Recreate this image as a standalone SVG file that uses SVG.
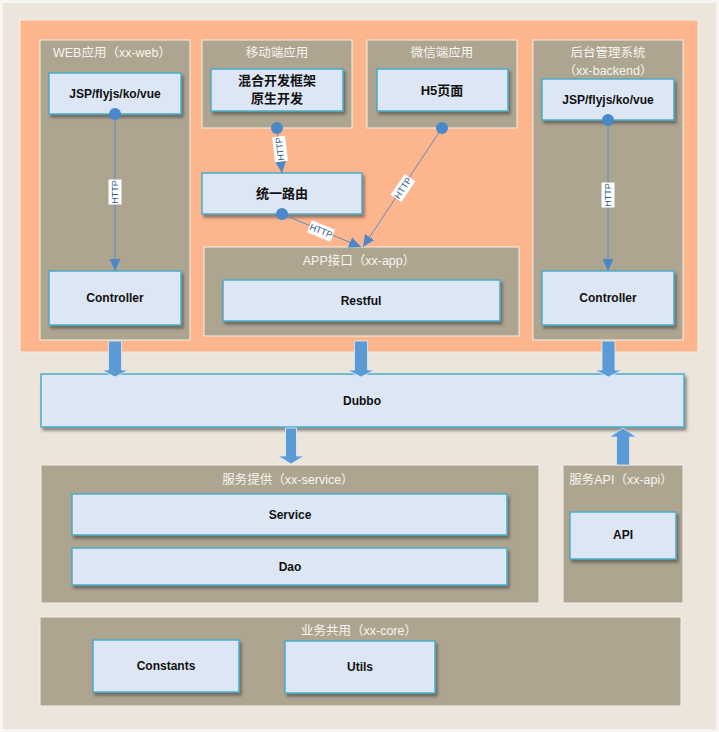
<svg xmlns="http://www.w3.org/2000/svg" width="719" height="732" viewBox="0 0 719 732">
  <defs>
    <filter id="sh" x="-10%" y="-20%" width="125%" height="150%">
      <feDropShadow dx="2" dy="3" stdDeviation="1.4" flood-color="#3a3a3a" flood-opacity="0.55"/>
    </filter>
    <marker id="ah" markerUnits="userSpaceOnUse" markerWidth="12" markerHeight="11" refX="12" refY="5.5" orient="auto">
      <path d="M0,0 L12,5.5 L0,11 z" fill="#4A88CA"/>
    </marker>
    <style>
      .grp { fill: #ADA590; stroke: #F3F0E8; stroke-width: 1; }
      .node { fill: #DDE6F4; stroke: #4BACC6; stroke-width: 1.5; filter: url(#sh); }
      .ttl { font-family: "Liberation Sans", "Noto Sans CJK SC", sans-serif; font-size: 12.5px; fill: #F7F5EF; text-anchor: middle; }
      .lbl { font-family: "Liberation Sans", "Noto Sans CJK SC", sans-serif; font-size: 12px; font-weight: bold; fill: #111111; text-anchor: middle; dominant-baseline: central; }
      .cjk { font-size: 13px; }
      .wire { stroke: #5B8CC4; stroke-width: 1; fill: none; marker-end: url(#ah); }
      .dot { fill: #4A88CA; }
      .tag rect { fill: #FFFFFF; }
      .tag text { font-family: "Liberation Sans", sans-serif; font-size: 9px; fill: #2E5C8E; text-anchor: middle; dominant-baseline: central; }
      .fat { fill: #5B9BD5; stroke: #E4ECF6; stroke-width: 0.8; }
    </style>
  </defs>

  <!-- canvas -->
  <rect x="0" y="0" width="719" height="732" fill="#F7F5F1"/>
  <rect x="3" y="3" width="713" height="726" fill="#EBE5DB"/>

  <!-- front-end layer -->
  <rect x="20" y="20" width="678" height="332" fill="#FDB58D" stroke="#F6EFE6" stroke-width="1"/>

  <g id="web">
    <rect class="grp" x="40" y="40" width="150" height="300"/>
    <text class="ttl" x="112" y="57">WEB应用（xx-web）</text>
  </g>
  <g id="mobile">
    <rect class="grp" x="202" y="40" width="150" height="88"/>
    <text class="ttl" x="277" y="57">移动端应用</text>
  </g>
  <g id="wechat">
    <rect class="grp" x="367" y="40" width="150" height="88"/>
    <text class="ttl" x="442" y="57">微信端应用</text>
  </g>
  <g id="backend">
    <rect class="grp" x="533" y="40" width="150" height="300"/>
    <text class="ttl" x="608" y="57">后台管理系统</text>
    <text class="ttl" x="608" y="75">（xx-backend）</text>
  </g>
  <g id="app">
    <rect class="grp" x="204" y="247" width="315" height="89"/>
    <text class="ttl" x="359" y="265">APP接口（xx-app）</text>
  </g>

  <g id="web-view">
    <rect class="node" x="49" y="73" width="132" height="41"/>
    <text class="lbl" x="115" y="94">JSP/flyjs/ko/vue</text>
  </g>
  <g id="hybrid">
    <rect class="node" x="211" y="69" width="132" height="42"/>
    <text class="lbl cjk" x="277" y="80">混合开发框架</text>
    <text class="lbl cjk" x="277" y="98">原生开发</text>
  </g>
  <g id="h5">
    <rect class="node" x="377" y="69" width="131" height="42"/>
    <text class="lbl cjk" x="442" y="90">H5页面</text>
  </g>
  <g id="backend-view">
    <rect class="node" x="542" y="79" width="132" height="41"/>
    <text class="lbl" x="608" y="100">JSP/flyjs/ko/vue</text>
  </g>
  <g id="router">
    <rect class="node" x="202" y="173" width="160" height="41"/>
    <text class="lbl cjk" x="282" y="193">统一路由</text>
  </g>
  <g id="web-controller">
    <rect class="node" x="49" y="271" width="132" height="54"/>
    <text class="lbl" x="115" y="298">Controller</text>
  </g>
  <g id="backend-controller">
    <rect class="node" x="542" y="271" width="132" height="54"/>
    <text class="lbl" x="608" y="298">Controller</text>
  </g>
  <g id="restful">
    <rect class="node" x="223" y="280" width="277" height="41"/>
    <text class="lbl" x="361" y="301">Restful</text>
  </g>

  <!-- RPC layer -->
  <g id="dubbo">
    <rect class="node" x="41" y="374" width="643" height="53"/>
    <text class="lbl" x="362" y="401">Dubbo</text>
  </g>

  <g id="service-provider">
    <rect class="grp" x="41" y="465" width="498" height="138"/>
    <text class="ttl" x="288" y="484">服务提供（xx-service）</text>
  </g>
  <g id="service">
    <rect class="node" x="72" y="494" width="435" height="41"/>
    <text class="lbl" x="290" y="515">Service</text>
  </g>
  <g id="dao">
    <rect class="node" x="72" y="548" width="435" height="37"/>
    <text class="lbl" x="290" y="567">Dao</text>
  </g>

  <g id="service-api">
    <rect class="grp" x="563" y="465" width="120" height="138"/>
    <text class="ttl" x="621" y="484">服务API（xx-api）</text>
  </g>
  <g id="api">
    <rect class="node" x="570" y="512" width="106" height="47"/>
    <text class="lbl" x="623" y="535">API</text>
  </g>

  <g id="core">
    <rect class="grp" x="40" y="617" width="641" height="89"/>
    <text class="ttl" x="359" y="635">业务共用（xx-core）</text>
  </g>
  <g id="constants">
    <rect class="node" x="93" y="640" width="146" height="52"/>
    <text class="lbl" x="166" y="666">Constants</text>
  </g>
  <g id="utils">
    <rect class="node" x="285" y="641" width="150" height="52"/>
    <text class="lbl" x="360" y="667">Utils</text>
  </g>

  <!-- connectors -->
  <g id="connectors">
    <line class="wire" x1="115" y1="114" x2="115" y2="271"/>
    <circle class="dot" cx="115" cy="114" r="6"/>
    <g class="tag" transform="translate(115,192) rotate(-90)">
      <rect x="-12.5" y="-6.5" width="25" height="13"/>
      <text x="0" y="0">HTTP</text>
    </g>

    <line class="wire" x1="608" y1="120" x2="608" y2="271"/>
    <circle class="dot" cx="608" cy="120" r="6"/>
    <g class="tag" transform="translate(608,195) rotate(-90)">
      <rect x="-12.5" y="-6.5" width="25" height="13"/>
      <text x="0" y="0">HTTP</text>
    </g>

    <line class="wire" x1="277" y1="128" x2="282" y2="173"/>
    <circle class="dot" cx="277" cy="128" r="6"/>
    <g class="tag" transform="translate(280,149) rotate(-96.5)">
      <rect x="-12.5" y="-6.5" width="25" height="13"/>
      <text x="0" y="0">HTTP</text>
    </g>

    <line class="wire" x1="282" y1="214" x2="361" y2="247"/>
    <circle class="dot" cx="282" cy="214" r="6"/>
    <g class="tag" transform="translate(321,231) rotate(22)">
      <rect x="-12.5" y="-6.5" width="25" height="13"/>
      <text x="0" y="0">HTTP</text>
    </g>

    <line class="wire" x1="442" y1="128" x2="363" y2="247"/>
    <circle class="dot" cx="442" cy="128" r="6"/>
    <g class="tag" transform="translate(403,188) rotate(-56)">
      <rect x="-12.5" y="-6.5" width="25" height="13"/>
      <text x="0" y="0">HTTP</text>
    </g>

    <!-- block arrows between layers -->
    <polygon class="fat" points="108.5,341 121.5,341 121.5,370 128.5,370 115,377 101.5,370 108.5,370"/>
    <polygon class="fat" points="354.5,341 367.5,341 367.5,370 374.5,370 361,377 347.5,370 354.5,370"/>
    <polygon class="fat" points="602,341 615,341 615,370 622,370 608.5,377 595,370 602,370"/>
    <polygon class="fat" points="285.5,428 296.5,428 296.5,456 304,456 291,464 278,456 285.5,456"/>
    <polygon class="fat" points="616.5,465 629.5,465 629.5,437 636.5,437 623,428 609.5,437 616.5,437"/>
  </g>
</svg>
